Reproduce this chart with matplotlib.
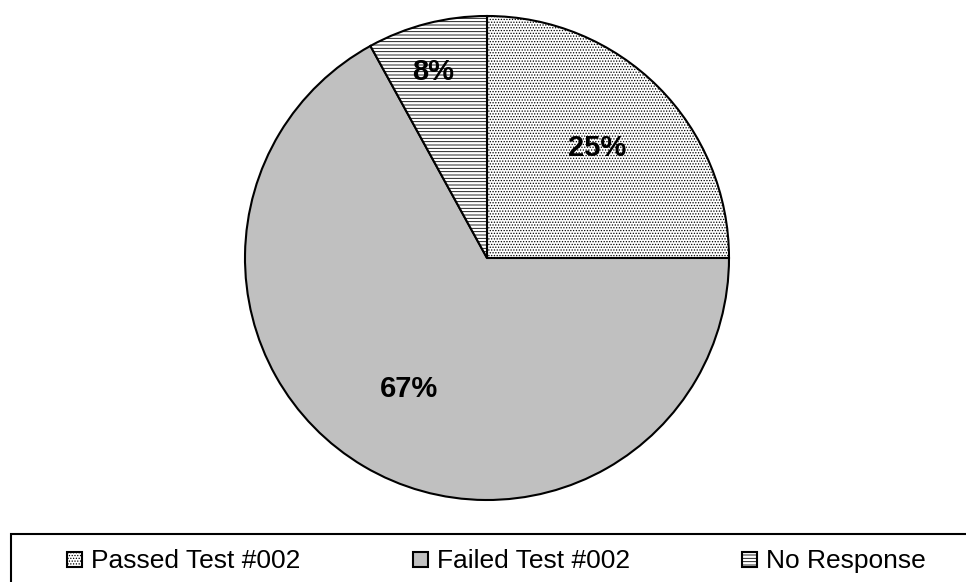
import math
import matplotlib
matplotlib.use("Agg")
import matplotlib.pyplot as plt
from matplotlib.patches import Rectangle

labels = ["Passed Test #002", "Failed Test #002", "No Response"]
shares = [25, 67, 8]
fills = ["white", "#c0c0c0", "white"]
hatches = ["......", None, "-----"]
label_dist = [0.645, 0.63, 0.80]

W, H = 966, 582
plt.rcParams["font.family"] = ["Liberation Sans", "DejaVu Sans"]
plt.rcParams["hatch.linewidth"] = 0.6

fig = plt.figure(figsize=(W / 100, H / 100), dpi=100)
fig.patch.set_facecolor("white")

# pie centred at (487, 258) px, radius 242 px
cx, cy, r = 487, 258, 242
ax = fig.add_axes([(cx - r) / W, (H - cy - r) / H, 2 * r / W, 2 * r / H])
wedges, _ = ax.pie(shares, startangle=90, counterclock=False, colors=fills,
                   wedgeprops=dict(edgecolor="black", linewidth=1.5))
for w, h in zip(wedges, hatches):
    if h:
        w.set_hatch(h)
ax.set_xlim(-1, 1); ax.set_ylim(-1, 1)
ax.set_aspect("equal"); ax.axis("off")

for w, v, d in zip(wedges, shares, label_dist):
    mid = math.radians((w.theta1 + w.theta2) / 2) + (0.03 if v == 8 else 0)
    ax.text(d * math.cos(mid), d * math.sin(mid), f"{v}%", ha="center", va="center",
            fontsize=21, fontweight="bold")

# legend frame runs off the right and bottom edges
fig.add_artist(Rectangle((11 / W, -0.1), 1.0, (H - 534) / H + 0.1, transform=fig.transFigure,
                         fill=False, edgecolor="black", linewidth=1.5, clip_on=False))
sx = [67, 413, 742]
sq = 15
top, base = 552, 568
for x, lab, fc, h in zip(sx, labels, fills, hatches):
    fig.add_artist(Rectangle((x / W, (H - top - sq) / H), sq / W, sq / H, transform=fig.transFigure,
                             facecolor=fc, edgecolor="black", linewidth=1.5, hatch=h))
    fig.text((x + sq + 9) / W, (H - base) / H, lab, ha="left", va="baseline", fontsize=19)

fig.savefig("out.png", dpi=100)
